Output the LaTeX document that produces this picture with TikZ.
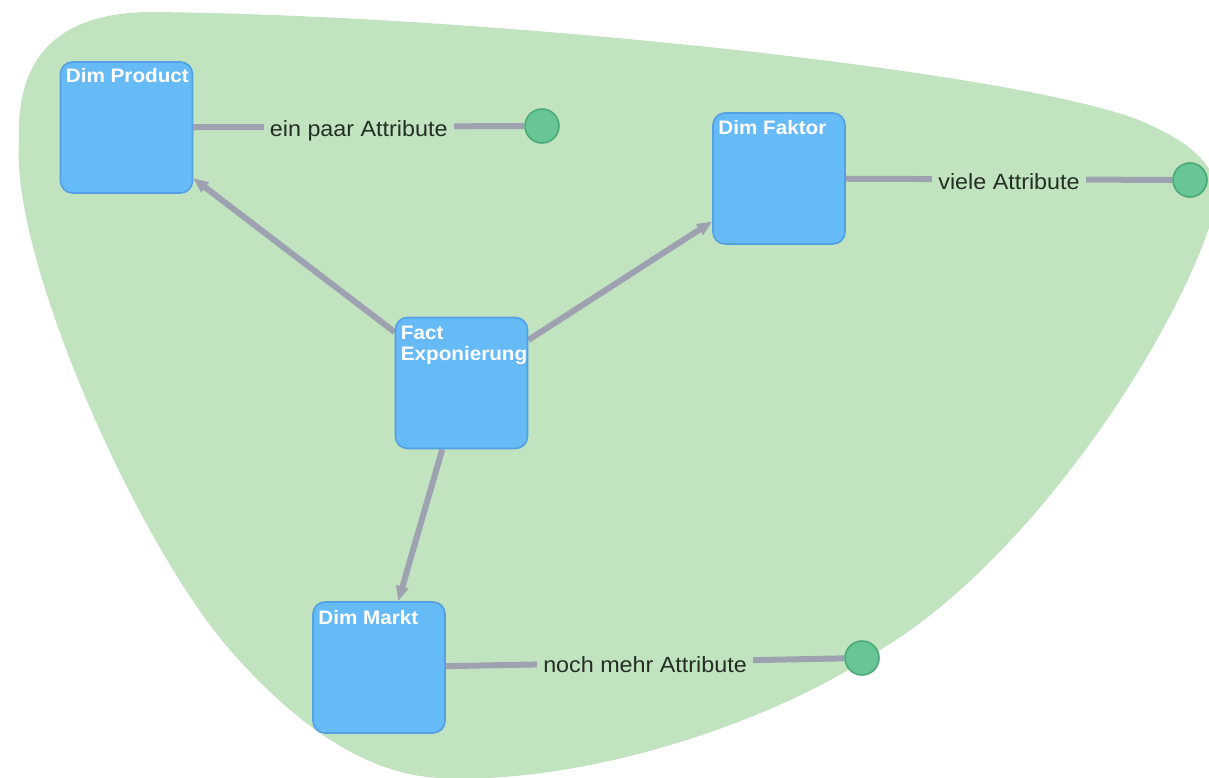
\documentclass[tikz,border=0pt]{standalone}
\usepackage{fontspec}
\setmainfont{Liberation Sans}
\newfontfamily\titlefont[FakeStretch=1.06]{Liberation Sans}
\newfontfamily\attrfont[FakeStretch=1.06]{Liberation Sans}
\usetikzlibrary{arrows.meta,calc}

\definecolor{blobgreen}{RGB}{193,227,192}
\definecolor{boxblue}{RGB}{102,186,246}
\definecolor{boxedge}{RGB}{84,160,226}
\definecolor{linkgray}{RGB}{158,162,176}
\definecolor{dotgreen}{RGB}{104,198,150}
\definecolor{dotedge}{RGB}{76,170,118}
\definecolor{attrtext}{RGB}{36,46,36}

\pgfdeclarelayer{hull}
\pgfdeclarelayer{links}
\pgfsetlayers{hull,links,main}

\tikzset{
  tablebox/.style={draw=boxedge, line width=1.6pt, fill=boxblue,
    rounded corners=12pt, minimum width=132pt, minimum height=131pt,
    inner sep=0pt},
  tabletitle/.style={anchor=north west, inner sep=0pt, text=white,
    align=left, font=\titlefont\bfseries\fontsize{19.5}{21}\selectfont},
  attrdot/.style={circle, draw=dotedge, line width=1.6pt, fill=dotgreen,
    minimum size=34pt, inner sep=0pt},
  reflink/.style={draw=linkgray, line width=6pt,
    -{Triangle[length=15pt,width=12pt]}},
  attrlink/.style={draw=linkgray, line width=6pt},
  attrlabel/.style={fill=blobgreen, text=attrtext, inner xsep=6pt,
    inner ysep=0pt, text height=16pt, text depth=5pt, yshift=-4.5pt,
    font=\attrfont\fontsize{22}{24}\selectfont}
}

\begin{document}
\begin{tikzpicture}[x=1pt,y=-1pt]
  \path[use as bounding box] (0,0) rectangle (1209,778);

  % tables
  \node[tablebox] (dp) at (126.5,127.5) {};
  \node[tablebox] (df) at (779,178.5) {};
  \node[tablebox] (fe) at (461.5,383) {};
  \node[tablebox] (dm) at (379,667.5) {};

  \node[tabletitle] (dpt) at ($(dp.north west)+(6,7)$) {Dim Product};
  \node[tabletitle] (dft) at ($(df.north west)+(6,8)$) {Dim Faktor};
  \node[tabletitle] (fet) at ($(fe.north west)+(6,9)$) {Fact\\Exponierung};
  \node[tabletitle] (dmt) at ($(dm.north west)+(6,9)$) {Dim Markt};

  % attribute end points
  \node[attrdot] (a1) at (542,126) {};
  \node[attrdot] (a2) at (1190,180) {};
  \node[attrdot] (a3) at (862,658) {};

  % shaded hull around the whole model
  \begin{pgfonlayer}{hull}
    \fill[white] (0,0) rectangle (1209,778);
    \fill[blobgreen] (19,140)
      .. controls (16,55) and (60,13) .. (150,12)
      .. controls (500,15) and (1050,75) .. (1150,125)
      .. controls (1205,150) and (1230,180) .. (1210,225)
      .. controls (1170,345) and (1030,560) .. (880,650)
      .. controls (770,725) and (580,785) .. (440,778)
      .. controls (370,775) and (300,730) .. (230,650)
      .. controls (139,546) and (10,260) .. (19,140) -- cycle;
  \end{pgfonlayer}

  % references from the fact table and attribute links
  \begin{pgfonlayer}{links}
    \draw[reflink] (fe) -- (dp);
    \draw[reflink] (fe) -- (df);
    \draw[reflink] (fe) -- (dm);

    \draw[attrlink] (dp) -- node[attrlabel] {ein paar Attribute} (a1);
    \draw[attrlink] (df) -- node[attrlabel] {viele Attribute} (a2);
    \draw[attrlink] (dm) -- node[attrlabel] {noch mehr Attribute} (a3);
  \end{pgfonlayer}
\end{tikzpicture}
\end{document}
